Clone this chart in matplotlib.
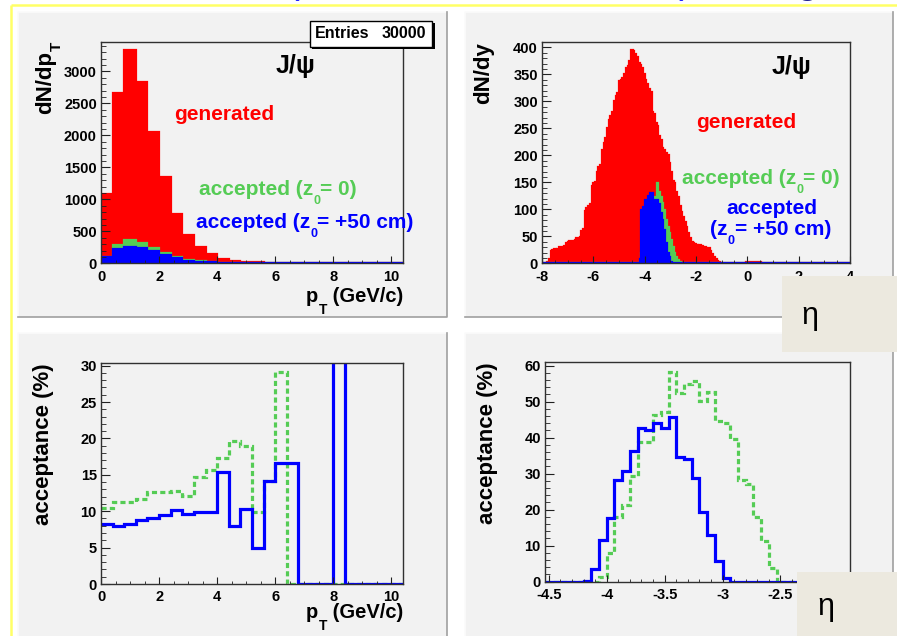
import matplotlib
matplotlib.use('Agg')
import matplotlib.pyplot as plt
import numpy as np
from matplotlib.patches import Rectangle
from matplotlib.ticker import MultipleLocator, FuncFormatter

plt.rcParams['font.family'] = ['Liberation Sans', 'DejaVu Sans']
plt.rcParams['font.weight'] = 'bold'

# ---------------- data ----------------
# pT spectra (bins of 0.4 GeV/c from 0 to 10.4)
pt_edges = np.linspace(0, 10.4, 27)
pt_generated = [1085, 2660, 3340, 2833, 2060, 1346, 772, 443, 250, 141, 68, 42, 26,
                20, 12, 9, 7, 5, 4, 3, 3, 2, 2, 1, 1, 1]
pt_acc_z0 = [104, 286, 370, 313, 244, 156, 94, 52, 35, 20, 12, 8, 5,
             4, 3, 2, 2, 1, 1, 1, 0, 0, 0, 0, 0, 0]
pt_acc_z50 = [94, 219, 260, 235, 193, 130, 78, 41, 25, 14, 10, 4, 3,
              2, 2, 1, 1, 0, 0, 0, 1, 0, 0, 0, 0, 0]

# rapidity spectra (180 bins from -8 to 4)
y_edges = np.linspace(-8, 4, 181)
y_generated = ([0, 0, 1, 2, 8, 22, 25, 26, 25, 27, 30, 31, 30, 32, 38, 40, 41, 40, 42, 44,
                46, 45, 48, 60, 64, 97, 103, 106, 110, 143, 148, 150, 170, 178, 182, 210,
                222, 232, 250, 266, 272, 280, 300, 310, 315, 338, 340, 343, 350, 362,
                366, 375, 395, 393,
                388, 383, 372, 368, 362, 350, 340, 332, 322, 318, 280, 276, 260, 255, 236,
                228, 214, 210, 204, 200, 186, 170, 152, 148, 133, 122, 106, 95, 86, 76,
                68, 56, 46, 40, 38, 36,
                33, 32, 33, 32, 31, 30, 28, 28, 22, 18, 12, 8, 4, 2,
                1, 0, 1, 0, 0, 1, 0, 0, 0, 1, 0, 0, 1, 0, 0,
                2, 3, 3, 3, 2, 3, 3, 2, 2, 1, 1, 0] + [0] * 49)
y_acc_z0 = ([0] * 56 +
            [0, 4, 20, 35, 55, 70, 85, 100, 115, 123, 123, 149, 133, 123, 111, 99, 81,
             68, 56, 44, 31, 19, 11, 6, 3, 1, 0] + [0] * 97)
y_acc_z50 = ([0] * 56 +
             [0, 8, 99, 104, 117, 118, 125, 131, 131, 118, 117, 117, 110, 93, 80, 62, 37,
              20, 12, 3, 0] + [0] * 103)

# acceptance vs pT (%)
acc_pt_z0 = [10.5, 11.3, 11.3, 11.7, 12.6, 12.6, 12.8, 12.1, 14.7, 15.6, 17.3, 19.6, 19.0,
             9.9, 14.2, 29.1, 0, 0, 0, 0, 0, 0, 0, 0, 0, 0]
acc_pt_z50 = [8.3, 8.0, 8.2, 8.8, 9.0, 9.5, 10.1, 9.6, 9.9, 9.9, 15.4, 7.9, 10.3,
              5.0, 14.2, 16.6, 16.6, 0, 0, 0, 100, 0, 0, 0, 0, 0]

# acceptance vs eta (%), bins 52..91 of the rapidity binning
eta_edges = y_edges[52:93]
acc_eta_z0 = [0, 0, 0, 0, 0, 0, 0, 1.2, 7.9, 18.1, 21.3, 29.4, 38.9, 38.9, 46.3, 47.2,
              58.3, 52.3, 54.9, 55.8, 50.3, 52.8, 44.7, 44.0, 39.5, 28.1, 27.2, 18.1,
              11.4, 3.9, 0, 0, 0, 0, 0, 0, 0, 0, 0, 0]
acc_eta_z50 = [0, 0, 0, 0, 0, 0.3, 3.4, 11.6, 17.6, 28.1, 30.6, 36.3, 42.6, 42.1, 44.0,
               42.6, 45.6, 34.7, 34.0, 28.9, 19.4, 13.1, 5.8, 1.1, 0, 0, 0, 0, 0, 0,
               0, 0, 0, 0, 0, 0, 0, 0, 0, 0]

RED = '#ff0000'
GREEN = '#55cc55'
BLUE = '#0000ff'
PANEL = '#f2f2f2'

W, H = 897, 636
fig = plt.figure(figsize=(W / 100, H / 100), dpi=100)
fig.patch.set_facecolor('white')


def fx(px):
    return px / W


def fy(py):
    return 1 - py / H


# background decoration layer (pixel coordinates)
bg = fig.add_axes([0, 0, 1, 1], zorder=-10)
bg.set_xlim(0, W)
bg.set_ylim(H, 0)
bg.axis('off')

# yellow slide border
bg.plot([11, 11], [5, H], color='#ffff66', lw=1.8, solid_capstyle='butt')
bg.plot([11, W], [5, 5], color='#ffff66', lw=1.8, solid_capstyle='butt')

# grey pads
for (x0, y0, x1, y1) in [(18, 12, 447, 317), (465, 12, 893, 317),
                         (18, 333, 447, 640), (465, 333, 893, 640)]:
    bg.add_patch(Rectangle((x0, y0), x1 - x0, y1 - y0, facecolor=PANEL, edgecolor='none'))
    bg.plot([x0, x0, x1], [y1, y0, y0], color='#fbfbfb', lw=1.2)
    bg.plot([x0, x1, x1], [y1, y1, y0], color='#a0a0a0', lw=1.2)

# fragments of the slide title cut by the top edge
for ch, xx, yy, col in [('(', 287, -7, '#2020ff'), (')', 679, -7, '#2020ff'),
                        ('g', 796, -7, '#202090')]:
    fig.text(fx(xx), fy(yy), ch, color=col, fontsize=28, fontweight='normal',
             ha='left', va='baseline')

fig.canvas.draw()
_renderer = fig.canvas.get_renderer()


def rich_text(x0, y0, parts, color='black', rot=0, ha='left'):
    """parts: (string, fontsize, drop_px); x0,y0 = baseline anchor in pixels (top-left origin)."""
    widths = []
    for s, fs, d in parts:
        t = fig.text(0, 0, s, fontsize=fs)
        widths.append(t.get_window_extent(_renderer).width)
        t.remove()
    pos = -sum(widths) if ha == 'right' else 0.0
    for (s, fs, d), w in zip(parts, widths):
        if rot == 0:
            px, py = x0 + pos, y0 + d
        else:
            px, py = x0 + d, y0 - pos
        fig.text(fx(px), fy(py), s, fontsize=fs, color=color, rotation=rot,
                 rotation_mode='anchor', ha='left', va='baseline')
        pos += w


def make_ax(l, r, t, b):
    ax = fig.add_axes([fx(l), fy(b), fx(r - l), (b - t) / H])
    ax.set_facecolor(PANEL)
    for s in ax.spines.values():
        s.set_color('#303030')
        s.set_linewidth(1.0)
    ax.tick_params(which='both', direction='in', top=False, right=False,
                   labelsize=10.5, color='#202020')
    ax.tick_params(axis='y', which='major', length=6.5, pad=3)
    ax.tick_params(axis='y', which='minor', length=3.3)
    ax.tick_params(axis='x', which='major', length=4.8, pad=4.5)
    ax.tick_params(axis='x', which='minor', length=2.4)
    ax.xaxis.set_major_formatter(FuncFormatter(lambda v, p: ('%g' % v).replace('\u2212', '-')))
    ax.yaxis.set_major_formatter(FuncFormatter(lambda v, p: '%g' % v))
    return ax


# ---------- top-left: dN/dpT ----------
ax1 = make_ax(101, 403, 42, 263.3)
for vals, c in [(pt_generated, RED), (pt_acc_z0, GREEN), (pt_acc_z50, BLUE)]:
    ax1.stairs(vals, pt_edges, fill=True, color=c, lw=0)
    ax1.stairs(vals, pt_edges, color=c, lw=1.6, baseline=None)
ax1.set_xlim(0, 10.4)
ax1.set_ylim(0, 3460)
ax1.xaxis.set_major_locator(MultipleLocator(2))
ax1.xaxis.set_minor_locator(MultipleLocator(0.5))
ax1.yaxis.set_major_locator(MultipleLocator(500))
ax1.yaxis.set_minor_locator(MultipleLocator(100))

# ---------- top-right: dN/dy ----------
ax2 = make_ax(542, 850, 42, 263.3)
for vals, c in [(y_generated, RED), (y_acc_z0, GREEN), (y_acc_z50, BLUE)]:
    ax2.stairs(vals, y_edges, fill=True, color=c, lw=0)
    ax2.stairs(vals, y_edges, color=c, lw=1.6, baseline=None)
ax2.set_xlim(-8, 4)
ax2.set_ylim(0, 410)
ax2.xaxis.set_major_locator(MultipleLocator(2))
ax2.xaxis.set_minor_locator(MultipleLocator(0.5))
ax2.yaxis.set_major_locator(MultipleLocator(50))
ax2.yaxis.set_minor_locator(MultipleLocator(10))

# ---------- bottom-left: acceptance vs pT ----------
ax3 = make_ax(101, 403, 362.7, 584)
ax3.stairs(acc_pt_z0, pt_edges, color=GREEN, lw=2.3, baseline=None,
           linestyle=(0, (1.6, 1.0)))
ax3.stairs(acc_pt_z50, pt_edges, color=BLUE, lw=2.3, baseline=None)
ax3.set_xlim(0, 10.4)
ax3.set_ylim(0, 30.4)
ax3.xaxis.set_major_locator(MultipleLocator(2))
ax3.xaxis.set_minor_locator(MultipleLocator(0.5))
ax3.yaxis.set_major_locator(MultipleLocator(5))
ax3.yaxis.set_minor_locator(MultipleLocator(1))

# ---------- bottom-right: acceptance vs eta ----------
ax4 = make_ax(545, 850, 362, 581.7)
ax4.stairs(acc_eta_z0, eta_edges, color=GREEN, lw=2.3, baseline=None,
           linestyle=(0, (1.6, 1.0)))
ax4.stairs(acc_eta_z50, eta_edges, color=BLUE, lw=2.3, baseline=None)
ax4.set_xlim(-4.533, -1.9)
ax4.set_ylim(0, 61)
ax4.xaxis.set_major_locator(MultipleLocator(0.5))
ax4.xaxis.set_minor_locator(MultipleLocator(0.1))
ax4.yaxis.set_major_locator(MultipleLocator(10))
ax4.yaxis.set_minor_locator(MultipleLocator(2))

# ---------- axis titles ----------
rich_text(51, 42, [('dN/dp', 16, 0), ('T', 11, 10)], rot=90, ha='right')
rich_text(403, 302, [('p', 14.5, 0), ('T', 10, 12), (' (GeV/c)', 14.5, 0)], ha='right')
fig.text(fx(484), fy(42), 'dN/dy', rotation=90, ha='center', va='top', fontsize=16)
fig.text(fx(44), fy(363), 'acceptance (%)', rotation=90, ha='center', va='top', fontsize=16)
rich_text(403, 618, [('p', 14.5, 0), ('T', 10, 12), (' (GeV/c)', 14.5, 0)], ha='right')
fig.text(fx(487), fy(362), 'acceptance (%)', rotation=90, ha='center', va='top', fontsize=16)

# ---------- in-plot annotations ----------
fig.text(fx(276), fy(73), 'J/ψ', color='black', fontsize=18, ha='left', va='baseline')
fig.text(fx(174), fy(120), 'generated', color=RED, fontsize=15, ha='left', va='baseline')
rich_text(199, 195, [('accepted (z', 15, 0), ('0', 9, 9), ('= 0)', 15, 0)], color=GREEN)
rich_text(196, 228, [('accepted (z', 15, 0), ('0', 9, 9), ('= +50 cm)', 15, 0)], color=BLUE)

fig.text(fx(772), fy(74), 'J/ψ', color='black', fontsize=18, ha='left', va='baseline')
fig.text(fx(696), fy(128), 'generated', color=RED, fontsize=15, ha='left', va='baseline')
rich_text(682, 184, [('accepted (z', 15, 0), ('0', 9, 9), ('= 0)', 15, 0)], color=GREEN)
fig.text(fx(726), fy(214), 'accepted', color=BLUE, fontsize=15, ha='left', va='baseline')
rich_text(710, 235, [('(z', 15, 0), ('0', 9, 9), ('= +50 cm)', 15, 0)], color=BLUE)

# ---------- statistics box ----------
top = fig.add_axes([0, 0, 1, 1], zorder=20)
top.set_xlim(0, W)
top.set_ylim(H, 0)
top.axis('off')
top.add_patch(Rectangle((312, 23), 123, 26, facecolor='black', edgecolor='none'))
top.add_patch(Rectangle((310, 21), 122, 25.5, facecolor='white', edgecolor='black', lw=1.0))
top.text(315, 34, 'Entries', fontsize=11.5, ha='left', va='center')
top.text(426, 34, '30000', fontsize=11.5, ha='right', va='center')

# ---------- beige overlay boxes with eta ----------
top.add_patch(Rectangle((782, 276), 120, 76, facecolor='#ece9df', edgecolor='none'))
top.text(810, 316, 'η', fontsize=22, fontweight='normal', ha='center', va='center')
top.add_patch(Rectangle((797, 572), 105, 70, facecolor='#ece9df', edgecolor='none'))
top.text(826, 607, 'η', fontsize=22, fontweight='normal', ha='center', va='center')

fig.savefig('out.png', dpi=100, facecolor='white')
